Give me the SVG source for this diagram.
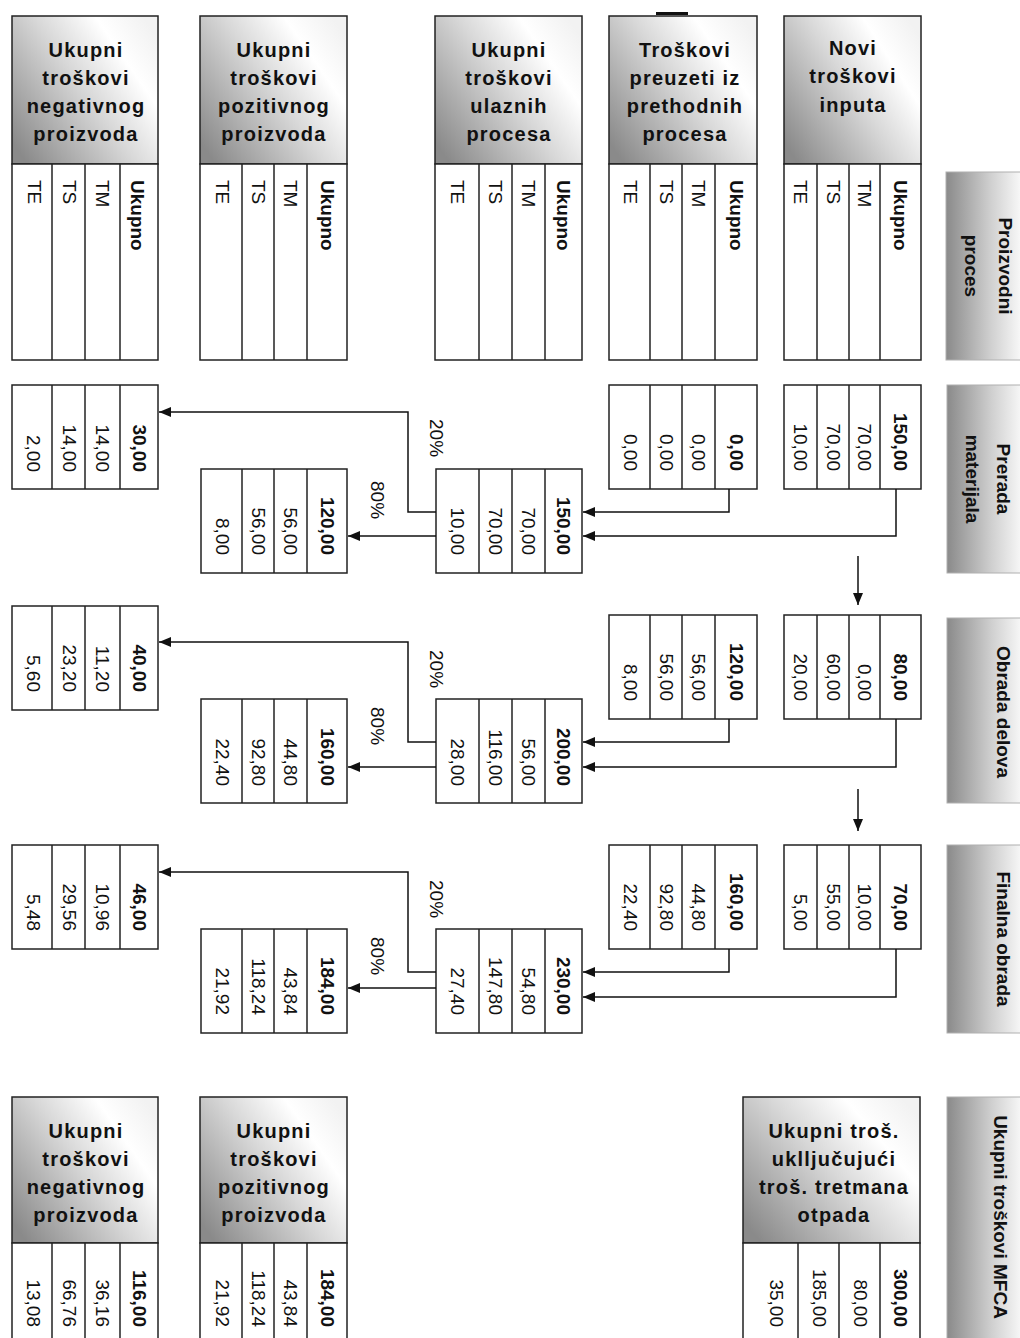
<svg xmlns="http://www.w3.org/2000/svg" width="1020" height="1338" viewBox="0 0 1020 1338">
<defs>
<linearGradient id="gh" x1="0" y1="0.85" x2="1" y2="0.15">
<stop offset="0" stop-color="#8a8a8a"/>
<stop offset="0.5" stop-color="#d8d8d8"/>
<stop offset="0.78" stop-color="#ffffff"/>
<stop offset="1" stop-color="#f2f2f2"/>
</linearGradient>
<linearGradient id="gr" x1="0" y1="0" x2="1" y2="0">
<stop offset="0" stop-color="#8a8a8a"/>
<stop offset="0.45" stop-color="#d0d0d0"/>
<stop offset="0.8" stop-color="#ffffff"/>
</linearGradient>
<marker id="ah" viewBox="0 0 12 10" refX="12" refY="5" markerWidth="12" markerHeight="10" markerUnits="userSpaceOnUse" orient="auto">
<path d="M0,0 L12,5 L0,10 z" fill="#111"/>
</marker>
<style>
.hd{fill:url(#gh);stroke:#222;stroke-width:1.5}
.bx{fill:#fff;stroke:#222;stroke-width:1.5}
.dv{stroke:#222;stroke-width:1.5}
.rl{fill:url(#gr);stroke:#b0b0b0;stroke-width:1}
.ht{font-family:'Liberation Sans',Arial,sans-serif;font-weight:bold;font-size:20px;letter-spacing:1.2px;text-anchor:middle;fill:#111}
.cl{font-family:'Liberation Sans',Arial,sans-serif;font-size:19px;fill:#111;dominant-baseline:central}
.cb{font-family:'Liberation Sans',Arial,sans-serif;font-size:19px;font-weight:bold;fill:#111;dominant-baseline:central}
.n{font-family:'Liberation Sans',Arial,sans-serif;font-size:19px;fill:#111;dominant-baseline:central;text-anchor:end}
.nb{font-family:'Liberation Sans',Arial,sans-serif;font-size:19px;font-weight:bold;fill:#111;dominant-baseline:central;text-anchor:end}
.lb{font-family:'Liberation Sans',Arial,sans-serif;font-size:19px;font-weight:bold;fill:#111;dominant-baseline:central;text-anchor:middle}
.pc{font-family:'Liberation Sans',Arial,sans-serif;font-size:19px;fill:#111;dominant-baseline:central}
.cn{fill:none;stroke:#111;stroke-width:1.5}
</style>
</defs>
<rect width="1020" height="1338" fill="#fff"/>

<!-- top mark -->
<rect x="656" y="12" width="32" height="3" fill="#111"/>

<!-- Top header tables -->
<g id="top-negativni">
<rect class="hd" x="12" y="16" width="146" height="148"/>
<text class="ht" x="86" y="57">Ukupni</text>
<text class="ht" x="86" y="85">troškovi</text>
<text class="ht" x="86" y="113">negativnog</text>
<text class="ht" x="86" y="141">proizvoda</text>
<rect class="bx" x="12" y="164" width="146" height="196"/>
<line class="dv" x1="52" y1="164" x2="52" y2="360"/><line class="dv" x1="85" y1="164" x2="85" y2="360"/><line class="dv" x1="120" y1="164" x2="120" y2="360"/>
<text class="cl" transform="translate(34 180) rotate(90)">TE</text>
<text class="cl" transform="translate(69 180) rotate(90)">TS</text>
<text class="cl" transform="translate(102 180) rotate(90)">TM</text>
<text class="cb" transform="translate(137 180) rotate(90)">Ukupno</text>
</g>

<g id="top-pozitivni">
<rect class="hd" x="200" y="16" width="147" height="148"/>
<text class="ht" x="274" y="57">Ukupni</text>
<text class="ht" x="274" y="85">troškovi</text>
<text class="ht" x="274" y="113">pozitivnog</text>
<text class="ht" x="274" y="141">proizvoda</text>
<rect class="bx" x="200" y="164" width="147" height="196"/>
<line class="dv" x1="242" y1="164" x2="242" y2="360"/><line class="dv" x1="274" y1="164" x2="274" y2="360"/><line class="dv" x1="307" y1="164" x2="307" y2="360"/>
<text class="cl" transform="translate(222 180) rotate(90)">TE</text>
<text class="cl" transform="translate(258 180) rotate(90)">TS</text>
<text class="cl" transform="translate(290 180) rotate(90)">TM</text>
<text class="cb" transform="translate(327 180) rotate(90)">Ukupno</text>
</g>

<g id="top-ulazni">
<rect class="hd" x="435" y="16" width="147" height="148"/>
<text class="ht" x="509" y="57">Ukupni</text>
<text class="ht" x="509" y="85">troškovi</text>
<text class="ht" x="509" y="113">ulaznih</text>
<text class="ht" x="509" y="141">procesa</text>
<rect class="bx" x="435" y="164" width="147" height="196"/>
<line class="dv" x1="479" y1="164" x2="479" y2="360"/><line class="dv" x1="512" y1="164" x2="512" y2="360"/><line class="dv" x1="545" y1="164" x2="545" y2="360"/>
<text class="cl" transform="translate(457 180) rotate(90)">TE</text>
<text class="cl" transform="translate(495 180) rotate(90)">TS</text>
<text class="cl" transform="translate(528 180) rotate(90)">TM</text>
<text class="cb" transform="translate(563 180) rotate(90)">Ukupno</text>
</g>

<g id="top-preuzeti">
<rect class="hd" x="609" y="16" width="148" height="148"/>
<text class="ht" x="685" y="57">Troškovi</text>
<text class="ht" x="685" y="85">preuzeti iz</text>
<text class="ht" x="685" y="113">prethodnih</text>
<text class="ht" x="685" y="141">procesa</text>
<rect class="bx" x="609" y="164" width="148" height="196"/>
<line class="dv" x1="650" y1="164" x2="650" y2="360"/><line class="dv" x1="682" y1="164" x2="682" y2="360"/><line class="dv" x1="715" y1="164" x2="715" y2="360"/>
<text class="cl" transform="translate(630 180) rotate(90)">TE</text>
<text class="cl" transform="translate(666 180) rotate(90)">TS</text>
<text class="cl" transform="translate(698 180) rotate(90)">TM</text>
<text class="cb" transform="translate(736 180) rotate(90)">Ukupno</text>
</g>

<g id="top-novi">
<rect class="hd" x="784" y="16" width="137" height="148"/>
<text class="ht" x="853" y="55">Novi</text>
<text class="ht" x="853" y="83">troškovi</text>
<text class="ht" x="853" y="112">inputa</text>
<rect class="bx" x="784" y="164" width="137" height="196"/>
<line class="dv" x1="817" y1="164" x2="817" y2="360"/><line class="dv" x1="849" y1="164" x2="849" y2="360"/><line class="dv" x1="880" y1="164" x2="880" y2="360"/>
<text class="cl" transform="translate(800 180) rotate(90)">TE</text>
<text class="cl" transform="translate(833 180) rotate(90)">TS</text>
<text class="cl" transform="translate(864 180) rotate(90)">TM</text>
<text class="cb" transform="translate(900 180) rotate(90)">Ukupno</text>
</g>

<!-- Row labels -->
<g id="lbl-proizvodni">
<rect class="rl" x="946" y="172" width="100" height="188"/>
<text class="lb" transform="translate(1005 266) rotate(90)">Proizvodni</text>
<text class="lb" transform="translate(971 266) rotate(90)">proces</text>
</g>
<g id="lbl-prerada">
<rect class="rl" x="947" y="385" width="100" height="188"/>
<text class="lb" transform="translate(1003 479) rotate(90)">Prerada</text>
<text class="lb" transform="translate(972 479) rotate(90)">materijala</text>
</g>
<g id="lbl-obrada">
<rect class="rl" x="947" y="618" width="100" height="185"/>
<text class="lb" transform="translate(1003 712) rotate(90)">Obrada delova</text>
</g>
<g id="lbl-finalna">
<rect class="rl" x="947" y="845" width="100" height="188"/>
<text class="lb" transform="translate(1003 939) rotate(90)">Finalna obrada</text>
</g>
<g id="lbl-mfca">
<rect class="rl" x="947" y="1097" width="100" height="260"/>
<text class="lb" transform="translate(1000 1217) rotate(90)">Ukupni troškovi MFCA</text>
</g>

<!-- Row 1: Prerada materijala -->
<g id="r1-novi">
<rect class="bx" x="784" y="385" width="137" height="104"/>
<line class="dv" x1="817" y1="385" x2="817" y2="489"/><line class="dv" x1="849" y1="385" x2="849" y2="489"/><line class="dv" x1="880" y1="385" x2="880" y2="489"/>
<text class="nb" transform="translate(900 471) rotate(90)">150,00</text>
<text class="n" transform="translate(864 471) rotate(90)">70,00</text>
<text class="n" transform="translate(833 471) rotate(90)">70,00</text>
<text class="n" transform="translate(800 471) rotate(90)">10,00</text>
</g>
<g id="r1-preuzeti">
<rect class="bx" x="609" y="385" width="148" height="104"/>
<line class="dv" x1="650" y1="385" x2="650" y2="489"/><line class="dv" x1="682" y1="385" x2="682" y2="489"/><line class="dv" x1="715" y1="385" x2="715" y2="489"/>
<text class="nb" transform="translate(736 471) rotate(90)">0,00</text>
<text class="n" transform="translate(698 471) rotate(90)">0,00</text>
<text class="n" transform="translate(666 471) rotate(90)">0,00</text>
<text class="n" transform="translate(630 471) rotate(90)">0,00</text>
</g>
<g id="r1-ulazni">
<rect class="bx" x="436" y="469" width="146" height="104"/>
<line class="dv" x1="479" y1="469" x2="479" y2="573"/><line class="dv" x1="512" y1="469" x2="512" y2="573"/><line class="dv" x1="545" y1="469" x2="545" y2="573"/>
<text class="nb" transform="translate(563 555) rotate(90)">150,00</text>
<text class="n" transform="translate(528 555) rotate(90)">70,00</text>
<text class="n" transform="translate(495 555) rotate(90)">70,00</text>
<text class="n" transform="translate(457 555) rotate(90)">10,00</text>
</g>
<g id="r1-pozitivni">
<rect class="bx" x="201" y="469" width="146" height="104"/>
<line class="dv" x1="242" y1="469" x2="242" y2="573"/><line class="dv" x1="274" y1="469" x2="274" y2="573"/><line class="dv" x1="307" y1="469" x2="307" y2="573"/>
<text class="nb" transform="translate(327 555) rotate(90)">120,00</text>
<text class="n" transform="translate(290 555) rotate(90)">56,00</text>
<text class="n" transform="translate(258 555) rotate(90)">56,00</text>
<text class="n" transform="translate(222 555) rotate(90)">8,00</text>
</g>
<g id="r1-negativni">
<rect class="bx" x="12" y="385" width="146" height="104"/>
<line class="dv" x1="52" y1="385" x2="52" y2="489"/><line class="dv" x1="85" y1="385" x2="85" y2="489"/><line class="dv" x1="120" y1="385" x2="120" y2="489"/>
<text class="nb" transform="translate(139 472) rotate(90)">30,00</text>
<text class="n" transform="translate(102 472) rotate(90)">14,00</text>
<text class="n" transform="translate(69 472) rotate(90)">14,00</text>
<text class="n" transform="translate(33 472) rotate(90)">2,00</text>
</g>

<!-- Row 2: Obrada delova -->
<g id="r2-novi">
<rect class="bx" x="784" y="615" width="137" height="104"/>
<line class="dv" x1="817" y1="615" x2="817" y2="719"/><line class="dv" x1="849" y1="615" x2="849" y2="719"/><line class="dv" x1="880" y1="615" x2="880" y2="719"/>
<text class="nb" transform="translate(900 701) rotate(90)">80,00</text>
<text class="n" transform="translate(864 701) rotate(90)">0,00</text>
<text class="n" transform="translate(833 701) rotate(90)">60,00</text>
<text class="n" transform="translate(800 701) rotate(90)">20,00</text>
</g>
<g id="r2-preuzeti">
<rect class="bx" x="609" y="615" width="148" height="104"/>
<line class="dv" x1="650" y1="615" x2="650" y2="719"/><line class="dv" x1="682" y1="615" x2="682" y2="719"/><line class="dv" x1="715" y1="615" x2="715" y2="719"/>
<text class="nb" transform="translate(736 701) rotate(90)">120,00</text>
<text class="n" transform="translate(698 701) rotate(90)">56,00</text>
<text class="n" transform="translate(666 701) rotate(90)">56,00</text>
<text class="n" transform="translate(630 701) rotate(90)">8,00</text>
</g>
<g id="r2-ulazni">
<rect class="bx" x="436" y="699" width="146" height="104"/>
<line class="dv" x1="479" y1="699" x2="479" y2="803"/><line class="dv" x1="512" y1="699" x2="512" y2="803"/><line class="dv" x1="545" y1="699" x2="545" y2="803"/>
<text class="nb" transform="translate(563 786) rotate(90)">200,00</text>
<text class="n" transform="translate(528 786) rotate(90)">56,00</text>
<text class="n" transform="translate(495 786) rotate(90)">116,00</text>
<text class="n" transform="translate(457 786) rotate(90)">28,00</text>
</g>
<g id="r2-pozitivni">
<rect class="bx" x="201" y="699" width="146" height="104"/>
<line class="dv" x1="242" y1="699" x2="242" y2="803"/><line class="dv" x1="274" y1="699" x2="274" y2="803"/><line class="dv" x1="307" y1="699" x2="307" y2="803"/>
<text class="nb" transform="translate(327 786) rotate(90)">160,00</text>
<text class="n" transform="translate(290 786) rotate(90)">44,80</text>
<text class="n" transform="translate(258 786) rotate(90)">92,80</text>
<text class="n" transform="translate(222 786) rotate(90)">22,40</text>
</g>
<g id="r2-negativni">
<rect class="bx" x="12" y="606" width="146" height="104"/>
<line class="dv" x1="52" y1="606" x2="52" y2="710"/><line class="dv" x1="85" y1="606" x2="85" y2="710"/><line class="dv" x1="120" y1="606" x2="120" y2="710"/>
<text class="nb" transform="translate(139 692) rotate(90)">40,00</text>
<text class="n" transform="translate(102 692) rotate(90)">11,20</text>
<text class="n" transform="translate(69 692) rotate(90)">23,20</text>
<text class="n" transform="translate(33 692) rotate(90)">5,60</text>
</g>

<!-- Row 3: Finalna obrada -->
<g id="r3-novi">
<rect class="bx" x="784" y="845" width="137" height="104"/>
<line class="dv" x1="817" y1="845" x2="817" y2="949"/><line class="dv" x1="849" y1="845" x2="849" y2="949"/><line class="dv" x1="880" y1="845" x2="880" y2="949"/>
<text class="nb" transform="translate(900 931) rotate(90)">70,00</text>
<text class="n" transform="translate(864 931) rotate(90)">10,00</text>
<text class="n" transform="translate(833 931) rotate(90)">55,00</text>
<text class="n" transform="translate(800 931) rotate(90)">5,00</text>
</g>
<g id="r3-preuzeti">
<rect class="bx" x="609" y="845" width="148" height="104"/>
<line class="dv" x1="650" y1="845" x2="650" y2="949"/><line class="dv" x1="682" y1="845" x2="682" y2="949"/><line class="dv" x1="715" y1="845" x2="715" y2="949"/>
<text class="nb" transform="translate(736 931) rotate(90)">160,00</text>
<text class="n" transform="translate(698 931) rotate(90)">44,80</text>
<text class="n" transform="translate(666 931) rotate(90)">92,80</text>
<text class="n" transform="translate(630 931) rotate(90)">22,40</text>
</g>
<g id="r3-ulazni">
<rect class="bx" x="436" y="929" width="146" height="104"/>
<line class="dv" x1="479" y1="929" x2="479" y2="1033"/><line class="dv" x1="512" y1="929" x2="512" y2="1033"/><line class="dv" x1="545" y1="929" x2="545" y2="1033"/>
<text class="nb" transform="translate(563 1015) rotate(90)">230,00</text>
<text class="n" transform="translate(528 1015) rotate(90)">54,80</text>
<text class="n" transform="translate(495 1015) rotate(90)">147,80</text>
<text class="n" transform="translate(457 1015) rotate(90)">27,40</text>
</g>
<g id="r3-pozitivni">
<rect class="bx" x="201" y="929" width="146" height="104"/>
<line class="dv" x1="242" y1="929" x2="242" y2="1033"/><line class="dv" x1="274" y1="929" x2="274" y2="1033"/><line class="dv" x1="307" y1="929" x2="307" y2="1033"/>
<text class="nb" transform="translate(327 1015) rotate(90)">184,00</text>
<text class="n" transform="translate(290 1015) rotate(90)">43,84</text>
<text class="n" transform="translate(258 1015) rotate(90)">118,24</text>
<text class="n" transform="translate(222 1015) rotate(90)">21,92</text>
</g>
<g id="r3-negativni">
<rect class="bx" x="12" y="845" width="146" height="104"/>
<line class="dv" x1="52" y1="845" x2="52" y2="949"/><line class="dv" x1="85" y1="845" x2="85" y2="949"/><line class="dv" x1="120" y1="845" x2="120" y2="949"/>
<text class="nb" transform="translate(139 931) rotate(90)">46,00</text>
<text class="n" transform="translate(102 931) rotate(90)">10,96</text>
<text class="n" transform="translate(69 931) rotate(90)">29,56</text>
<text class="n" transform="translate(33 931) rotate(90)">5,48</text>
</g>

<!-- Bottom totals -->
<g id="bot-negativni">
<rect class="hd" x="12" y="1097" width="146" height="146"/>
<text class="ht" x="86" y="1138">Ukupni</text>
<text class="ht" x="86" y="1166">troškovi</text>
<text class="ht" x="86" y="1194">negativnog</text>
<text class="ht" x="86" y="1222">proizvoda</text>
<rect class="bx" x="12" y="1243" width="146" height="110"/>
<line class="dv" x1="52" y1="1243" x2="52" y2="1345"/><line class="dv" x1="85" y1="1243" x2="85" y2="1345"/><line class="dv" x1="120" y1="1243" x2="120" y2="1345"/>
<text class="nb" transform="translate(139 1327) rotate(90)">116,00</text>
<text class="n" transform="translate(102 1327) rotate(90)">36,16</text>
<text class="n" transform="translate(69 1327) rotate(90)">66,76</text>
<text class="n" transform="translate(33 1327) rotate(90)">13,08</text>
</g>
<g id="bot-pozitivni">
<rect class="hd" x="200" y="1097" width="147" height="146"/>
<text class="ht" x="274" y="1138">Ukupni</text>
<text class="ht" x="274" y="1166">troškovi</text>
<text class="ht" x="274" y="1194">pozitivnog</text>
<text class="ht" x="274" y="1222">proizvoda</text>
<rect class="bx" x="200" y="1243" width="147" height="110"/>
<line class="dv" x1="242" y1="1243" x2="242" y2="1345"/><line class="dv" x1="274" y1="1243" x2="274" y2="1345"/><line class="dv" x1="307" y1="1243" x2="307" y2="1345"/>
<text class="nb" transform="translate(327 1327) rotate(90)">184,00</text>
<text class="n" transform="translate(290 1327) rotate(90)">43,84</text>
<text class="n" transform="translate(258 1327) rotate(90)">118,24</text>
<text class="n" transform="translate(222 1327) rotate(90)">21,92</text>
</g>
<g id="bot-ukupni">
<rect class="hd" x="743" y="1097" width="177" height="146"/>
<text class="ht" x="834" y="1138">Ukupni troš.</text>
<text class="ht" x="834" y="1166">uklljučujući</text>
<text class="ht" x="834" y="1194">troš. tretmana</text>
<text class="ht" x="834" y="1222">otpada</text>
<rect class="bx" x="743" y="1243" width="177" height="110"/>
<line class="dv" x1="798" y1="1243" x2="798" y2="1345"/><line class="dv" x1="839" y1="1243" x2="839" y2="1345"/><line class="dv" x1="880" y1="1243" x2="880" y2="1345"/>
<text class="nb" transform="translate(900 1327) rotate(90)">300,00</text>
<text class="n" transform="translate(860 1327) rotate(90)">80,00</text>
<text class="n" transform="translate(819 1327) rotate(90)">185,00</text>
<text class="n" transform="translate(776 1327) rotate(90)">35,00</text>
</g>

<!-- Connectors -->
<g id="connectors">
<polyline class="cn" points="729,489 729,512 583,512" marker-end="url(#ah)"/>
<polyline class="cn" points="896,489 896,536 583,536" marker-end="url(#ah)"/>
<polyline class="cn" points="436,512 408,512 408,412 159,412" marker-end="url(#ah)"/>
<polyline class="cn" points="436,536 348,536" marker-end="url(#ah)"/>
<line class="cn" x1="858" y1="556" x2="858" y2="605" marker-end="url(#ah)"/>

<polyline class="cn" points="729,719 729,742 583,742" marker-end="url(#ah)"/>
<polyline class="cn" points="896,719 896,767 583,767" marker-end="url(#ah)"/>
<polyline class="cn" points="436,742 408,742 408,642 159,642" marker-end="url(#ah)"/>
<polyline class="cn" points="436,767 348,767" marker-end="url(#ah)"/>
<line class="cn" x1="858" y1="789" x2="858" y2="831" marker-end="url(#ah)"/>

<polyline class="cn" points="729,949 729,972 583,972" marker-end="url(#ah)"/>
<polyline class="cn" points="896,949 896,997 583,997" marker-end="url(#ah)"/>
<polyline class="cn" points="436,972 408,972 408,872 159,872" marker-end="url(#ah)"/>
<polyline class="cn" points="436,988 348,988" marker-end="url(#ah)"/>

<text class="pc" transform="translate(436 419) rotate(90)">20%</text>
<text class="pc" transform="translate(377 481) rotate(90)">80%</text>
<text class="pc" transform="translate(436 650) rotate(90)">20%</text>
<text class="pc" transform="translate(377 707) rotate(90)">80%</text>
<text class="pc" transform="translate(436 880) rotate(90)">20%</text>
<text class="pc" transform="translate(377 937) rotate(90)">80%</text>
</g>
</svg>
